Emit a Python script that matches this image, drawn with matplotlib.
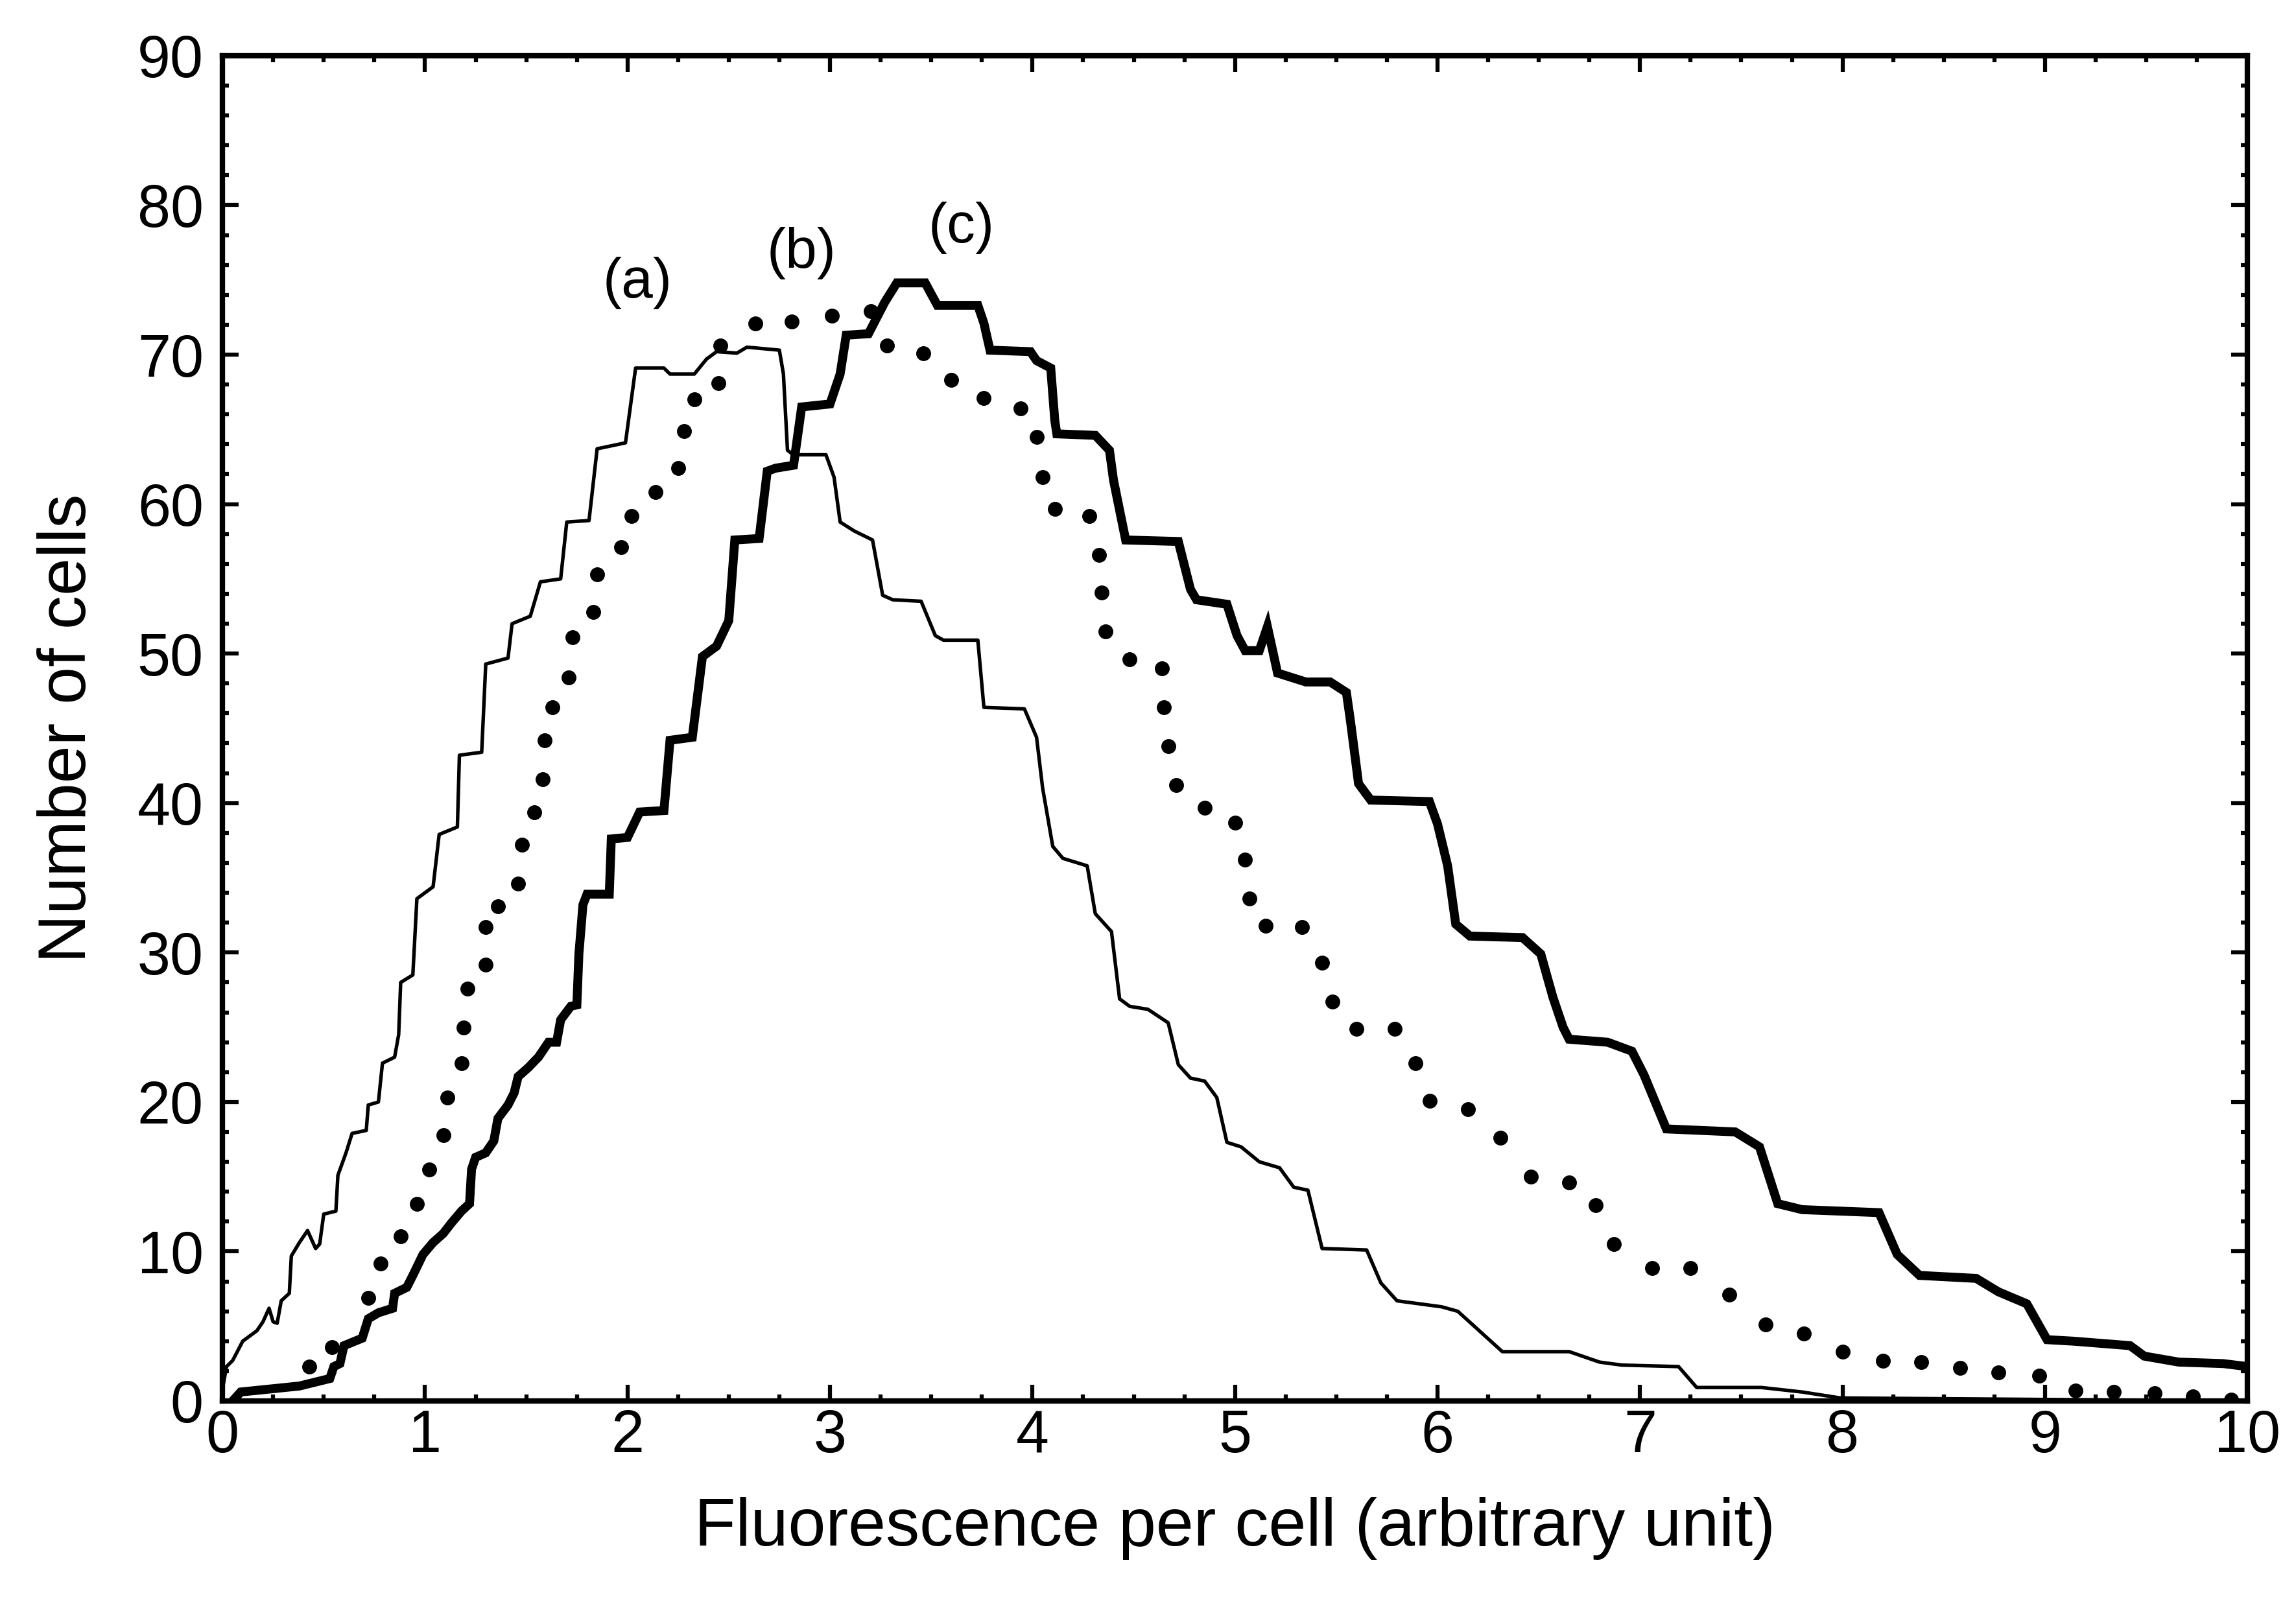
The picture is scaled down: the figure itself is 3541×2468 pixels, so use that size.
import matplotlib
matplotlib.use('Agg')
import matplotlib.pyplot as plt
from matplotlib.ticker import MultipleLocator

plt.rcParams['font.family'] = ['Liberation Sans', 'DejaVu Sans']

# curve (a): thin solid line
a_x = [0.00, 0.02, 0.05, 0.10, 0.17, 0.20, 0.23, 0.25, 0.27, 0.29, 0.33, 0.34,
       0.38, 0.42, 0.46, 0.48, 0.50, 0.56, 0.57, 0.61, 0.64, 0.71, 0.72, 0.77,
       0.79, 0.85, 0.87, 0.88, 0.94, 0.96, 1.04, 1.07, 1.16, 1.17, 1.28, 1.30,
       1.41, 1.43, 1.52, 1.57, 1.67, 1.70, 1.81, 1.85, 1.99, 2.04, 2.18, 2.21,
       2.33, 2.39, 2.44, 2.54, 2.59, 2.75, 2.77, 2.79, 2.82, 2.98, 3.02, 3.05,
       3.12, 3.21, 3.26, 3.31, 3.45, 3.52, 3.56, 3.73, 3.76, 3.96, 4.02, 4.05,
       4.10, 4.15, 4.27, 4.31, 4.39, 4.43, 4.48, 4.57, 4.67, 4.72, 4.78, 4.85,
       4.91, 4.96, 5.03, 5.12, 5.22, 5.29, 5.36, 5.43, 5.65, 5.72, 5.80, 6.02,
       6.10, 6.32, 6.65, 6.80, 6.91, 7.19, 7.28, 7.60, 7.80, 7.99, 9.00, 10.00]
a_y = [0.8, 2.3, 2.7, 4.0, 4.7, 5.3, 6.2, 5.3, 5.2, 6.7, 7.2, 9.7,
       10.6, 11.4, 10.2, 10.5, 12.5, 12.7, 15.1, 16.6, 17.9, 18.1, 19.8, 20.0,
       22.6, 23.0, 24.5, 28.0, 28.5, 33.6, 34.4, 37.9, 38.4, 43.2, 43.4, 49.3,
       49.7, 52.0, 52.5, 54.8, 55.0, 58.8, 58.9, 63.7, 64.1, 69.1, 69.1, 68.7,
       68.7, 69.7, 70.2, 70.1, 70.5, 70.3, 68.7, 63.6, 63.3, 63.3, 61.8, 58.8,
       58.2, 57.6, 53.9, 53.6, 53.5, 51.2, 50.9, 50.9, 46.4, 46.3, 44.4, 41.0,
       37.1, 36.3, 35.8, 32.6, 31.4, 26.9, 26.4, 26.2, 25.3, 22.5, 21.6, 21.4,
       20.3, 17.3, 17.0, 16.0, 15.6, 14.3, 14.1, 10.2, 10.1, 7.9, 6.7, 6.3,
       6.0, 3.3, 3.3, 2.6, 2.4, 2.3, 0.9, 0.9, 0.6, 0.2, 0.1, 0.0]

# curve (b): dotted
b_x = [0.43, 0.54, 0.72, 0.78, 0.88, 0.96, 1.02, 1.09, 1.11, 1.18, 1.19, 1.21,
       1.30, 1.30, 1.36, 1.46, 1.48, 1.54, 1.58, 1.59, 1.63, 1.71, 1.73, 1.83,
       1.85, 1.97, 2.02, 2.14, 2.25, 2.28, 2.33, 2.45, 2.46, 2.63, 2.81, 3.01,
       3.20, 3.28, 3.46, 3.60, 3.76, 3.94, 4.02, 4.05, 4.11, 4.28, 4.33, 4.34,
       4.36, 4.48, 4.64, 4.65, 4.67, 4.71, 4.85, 5.00, 5.05, 5.07, 5.15, 5.33,
       5.43, 5.48, 5.60, 5.79, 5.89, 5.96, 6.15, 6.31, 6.46, 6.65, 6.78, 6.87,
       7.06, 7.25, 7.44, 7.62, 7.81, 8.00, 8.20, 8.39, 8.58, 8.77, 8.97, 9.15,
       9.34, 9.54, 9.73, 9.92]
b_y = [2.3, 3.6, 6.9, 9.2, 11.0, 13.2, 15.5, 17.8, 20.3, 22.6, 25.0, 27.6,
       29.2, 31.7, 33.1, 34.6, 37.2, 39.4, 41.6, 44.2, 46.4, 48.4, 51.1, 52.8,
       55.3, 57.1, 59.2, 60.8, 62.4, 64.9, 67.0, 68.1, 70.6, 72.1, 72.2, 72.6,
       72.9, 70.6, 70.1, 68.3, 67.1, 66.4, 64.5, 61.8, 59.7, 59.2, 56.6, 54.1,
       51.5, 49.6, 49.0, 46.4, 43.8, 41.2, 39.7, 38.7, 36.2, 33.6, 31.8, 31.7,
       29.3, 26.7, 24.9, 24.9, 22.6, 20.1, 19.5, 17.6, 15.0, 14.6, 13.1, 10.5,
       8.9, 8.9, 7.1, 5.1, 4.5, 3.3, 2.7, 2.6, 2.2, 1.9, 1.7, 0.7,
       0.6, 0.5, 0.3, 0.1]

# curve (c): thick solid line
c_x = [0.05, 0.09, 0.38, 0.53, 0.55, 0.58, 0.60, 0.69, 0.72, 0.77, 0.84, 0.85,
       0.91, 0.94, 0.99, 1.04, 1.09, 1.13, 1.18, 1.22, 1.23, 1.25, 1.30, 1.34,
       1.36, 1.41, 1.44, 1.46, 1.51, 1.56, 1.61, 1.65, 1.67, 1.72, 1.75, 1.76,
       1.78, 1.80, 1.91, 1.92, 2.00, 2.06, 2.18, 2.21, 2.32, 2.37, 2.44, 2.50,
       2.53, 2.65, 2.69, 2.73, 2.82, 2.86, 3.00, 3.05, 3.08, 3.19, 3.27, 3.33,
       3.47, 3.53, 3.73, 3.76, 3.79, 3.99, 4.02, 4.09, 4.11, 4.12, 4.31, 4.38,
       4.40, 4.46, 4.72, 4.78, 4.81, 4.96, 5.01, 5.05, 5.12, 5.16, 5.21, 5.35,
       5.47, 5.55, 5.57, 5.61, 5.67, 5.96, 6.00, 6.05, 6.09, 6.16, 6.42, 6.51,
       6.57, 6.62, 6.65, 6.84, 6.96, 7.02, 7.13, 7.47, 7.59, 7.68, 7.80, 8.18,
       8.27, 8.38, 8.66, 8.77, 8.91, 9.01, 9.14, 9.42, 9.49, 9.66, 9.88, 10.00]
c_y = [0.0, 0.6, 1.0, 1.5, 2.3, 2.5, 3.7, 4.2, 5.5, 5.9, 6.2, 7.2,
       7.6, 8.4, 9.8, 10.6, 11.2, 11.9, 12.7, 13.2, 15.5, 16.3, 16.6, 17.4,
       18.9, 19.8, 20.6, 21.7, 22.3, 23.0, 24.0, 24.0, 25.5, 26.4, 26.5, 29.9,
       33.2, 33.9, 33.9, 37.6, 37.7, 39.4, 39.5, 44.2, 44.4, 49.8, 50.5, 52.2,
       57.6, 57.7, 62.2, 62.4, 62.6, 66.5, 66.7, 68.7, 71.3, 71.4, 73.5, 74.8,
       74.8, 73.3, 73.3, 72.1, 70.3, 70.2, 69.6, 69.1, 65.6, 64.7, 64.6, 63.6,
       61.6, 57.6, 57.5, 54.3, 53.6, 53.3, 51.2, 50.2, 50.2, 51.8, 48.7, 48.1,
       48.1, 47.4, 45.5, 41.3, 40.2, 40.1, 38.6, 35.8, 31.9, 31.1, 31.0, 29.9,
       27.0, 25.0, 24.2, 24.0, 23.4, 21.8, 18.2, 18.0, 17.0, 13.2, 12.8, 12.6,
       9.8, 8.4, 8.2, 7.3, 6.5, 4.1, 4.0, 3.7, 3.0, 2.6, 2.5, 2.3]

curve_labels = ['(a)', '(b)', '(c)']
label_x = [2.05, 2.86, 3.65]
label_y = [74.8, 76.8, 78.5]

fig = plt.figure(figsize=(3541 / 300, 2468 / 300), dpi=300)
ax = fig.add_axes([0.0969, 0.1244, 0.882, 0.8408])

ax.plot(a_x, a_y, color='black', lw=1.3)
ax.plot(c_x, c_y, color='black', lw=3.3, solid_joinstyle='miter')
ax.plot(b_x, b_y, linestyle='none', marker='o', ms=4.5, color='black')

for lab, lx, ly in zip(curve_labels, label_x, label_y):
    ax.text(lx, ly, lab, ha='center', va='center', fontsize=21)

ax.set_xlim(0, 10)
ax.set_ylim(0, 90)
ax.xaxis.set_major_locator(MultipleLocator(1))
ax.xaxis.set_minor_locator(MultipleLocator(0.25))
ax.yaxis.set_major_locator(MultipleLocator(10))
ax.yaxis.set_minor_locator(MultipleLocator(2))
ax.tick_params(which='both', direction='in', top=True, right=True,
               width=1.5, labelsize=22)
ax.tick_params(which='major', length=6)
ax.tick_params(which='minor', length=2.5)
ax.tick_params(axis='x', pad=3)
ax.tick_params(axis='y', pad=7)
for sp in ax.spines.values():
    sp.set_linewidth(2)

ax.set_xlabel('Fluorescence per cell (arbitrary unit)', fontsize=25, labelpad=12)
ax.set_ylabel('Number of cells', fontsize=25, labelpad=14)

fig.savefig('out.png', dpi=300)
